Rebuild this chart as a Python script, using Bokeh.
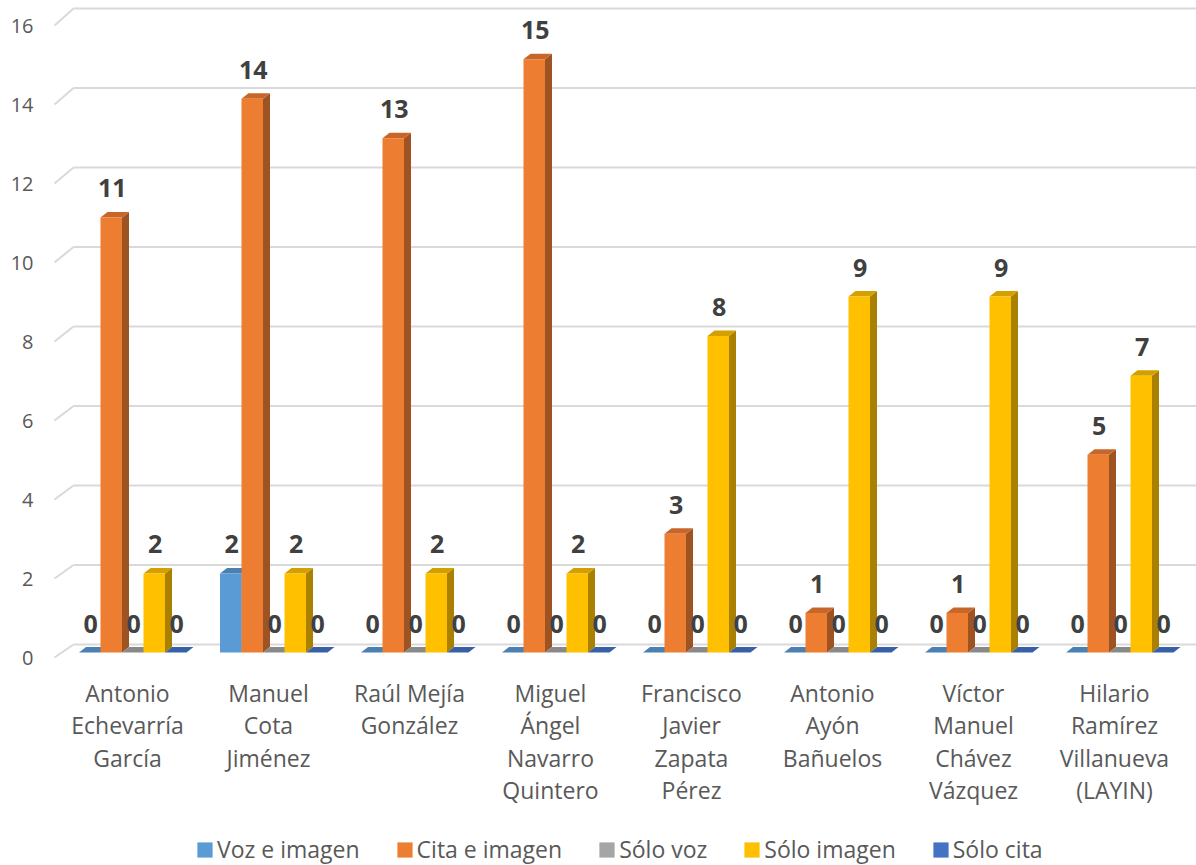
from bokeh.plotting import figure
from bokeh.models import Range1d, Legend, LegendItem, ColumnDataSource
from bokeh.core.properties import value
from bokeh.embed import file_html
from bokeh.resources import INLINE

# ---------------- data ----------------
categories = [
    "Antonio\nEchevarría\nGarcía",
    "Manuel\nCota\nJiménez",
    "Raúl Mejía\nGonzález",
    "Miguel\nÁngel\nNavarro\nQuintero",
    "Francisco\nJavier\nZapata\nPérez",
    "Antonio\nAyón\nBañuelos",
    "Víctor\nManuel\nChávez\nVázquez",
    "Hilario\nRamírez\nVillanueva\n(LAYIN)",
]
series_names = ["Voz e imagen", "Cita e imagen", "Sólo voz", "Sólo imagen", "Sólo cita"]
voz_imagen = [0, 2, 0, 0, 0, 0, 0, 0]
cita_imagen = [11, 14, 13, 15, 3, 1, 1, 5]
solo_voz = [0, 0, 0, 0, 0, 0, 0, 0]
solo_imagen = [2, 2, 2, 2, 8, 9, 9, 7]
solo_cita = [0, 0, 0, 0, 0, 0, 0, 0]
y_ticks = [0, 2, 4, 6, 8, 10, 12, 14, 16]

series_values = [voz_imagen, cita_imagen, solo_voz, solo_imagen, solo_cita]

# ---------------- styles ----------------
front_colors = ["#5B9BD5", "#ED7D31", "#A5A5A5", "#FFC000", "#4472C4"]
top_colors = ["#4A80B2", "#C8662A", "#898989", "#D4A000", "#3860A6"]
side_colors = ["#3D6A93", "#9E5322", "#6E6E6E", "#A98000", "#2E4D85"]
FONT = "Open Sans"
TEXT_COLOR = "#595959"
LABEL_COLOR = "#404040"
GRID_COLOR = "#D9D9D9"

W, H = 1196, 865
X_UNIT = 141.0   # px per category
Y_UNIT = 39.55   # px per value unit
CX0 = 127.0      # px of first category centre
Y0 = 652.0       # px (from top) of value 0
SLOT_PX = 21.5
BAR_PX = 21.5
FIRST_OFFSET_PX = -48.5
DX_PX, DY_PX = 7.0, 5.5

def dx(px):
    return px / X_UNIT

def dy(px):
    return px / Y_UNIT

def x_at(px):
    return (px - CX0) / X_UNIT

def y_at(px):
    return (Y0 - px) / Y_UNIT

p = figure(width=W, height=H, output_backend="svg", toolbar_location=None,
           x_axis_type=None, y_axis_type=None, min_border=0,
           x_range=Range1d(x_at(0), x_at(W)),
           y_range=Range1d(y_at(H), y_at(0)))
p.outline_line_color = None
p.xgrid.visible = False
p.ygrid.visible = False
p.background_fill_color = "white"
p.border_fill_color = "white"

# ---------------- gridlines (3D back wall) ----------------
x_wall_front = x_at(54)
x_wall_back = x_at(73)
x_end = x_at(W)
g_back = [(8 + 39.75 * t) / Y_UNIT for t in y_ticks]
g_front = [(-5 + 39.5 * t) / Y_UNIT for t in y_ticks]
p.segment(x0=[x_wall_back] * len(y_ticks), y0=g_back, x1=[x_end] * len(y_ticks), y1=g_back,
          line_color=GRID_COLOR, line_width=2)
p.segment(x0=[x_wall_front] * len(y_ticks), y0=g_front, x1=[x_wall_back] * len(y_ticks), y1=g_back,
          line_color=GRID_COLOR, line_width=2)

# tick labels
p.text(x=[x_at(33)] * len(y_ticks), y=g_front, text=[str(t) for t in y_ticks],
       text_align="right", text_baseline="middle", text_font=value(FONT),
       text_font_size="20px", text_color=TEXT_COLOR)

# ---------------- bars ----------------
front_renderers = []
n = len(categories)
for j, vals in enumerate(series_values):
    lefts = [i + dx(FIRST_OFFSET_PX + j * SLOT_PX) for i in range(n)]
    rights = [l + dx(BAR_PX) for l in lefts]
    ddx, ddy = dx(DX_PX), dy(DY_PX)
    side_xs = [[r, r + ddx, r + ddx, r] for r in rights]
    side_ys = [[0, ddy, v + ddy, v] for v in vals]
    top_xs = [[l, l + ddx, r + ddx, r] for l, r in zip(lefts, rights)]
    top_ys = [[v, v + ddy, v + ddy, v] for v in vals]
    p.patches(xs=side_xs, ys=side_ys, fill_color=side_colors[j], line_color=None)
    p.patches(xs=top_xs, ys=top_ys, fill_color=top_colors[j], line_color=None)
    src = ColumnDataSource(dict(left=lefts, right=rights, bottom=[0] * n, top=vals))
    r = p.quad(left="left", right="right", bottom="bottom", top="top", source=src,
               fill_color=front_colors[j], line_color=None)
    front_renderers.append(r)

# value labels
for j, vals in enumerate(series_values):
    xs = [i + dx(FIRST_OFFSET_PX + j * SLOT_PX + BAR_PX / 2 + 1) for i in range(n)]
    ys = [v + dy(29) for v in vals]
    p.text(x=xs, y=ys, text=[str(v) for v in vals], text_align="center",
           text_baseline="middle", text_font=value(FONT), text_font_size="25px",
           text_font_style="bold", text_color=LABEL_COLOR)

# category labels
p.text(x=list(range(n)), y=[y_at(676)] * n,
       text=categories, text_align="center", text_baseline="top",
       text_font=value(FONT), text_font_size="23px", text_color=TEXT_COLOR,
       text_line_height=1.02)

# ---------------- legend ----------------
legend = Legend(items=[LegendItem(label=nm, renderers=[r]) for nm, r in zip(series_names, front_renderers)],
                orientation="horizontal", location=(195, 0),
                glyph_width=19, glyph_height=19, label_standoff=3, spacing=35,
                padding=0, margin=0, border_line_alpha=0, background_fill_alpha=0,
                label_text_font=FONT, label_text_font_size="23px",
                label_text_color=TEXT_COLOR, label_height=19)
p.add_layout(legend)

open("out.html", "w").write(file_html(p, INLINE))
